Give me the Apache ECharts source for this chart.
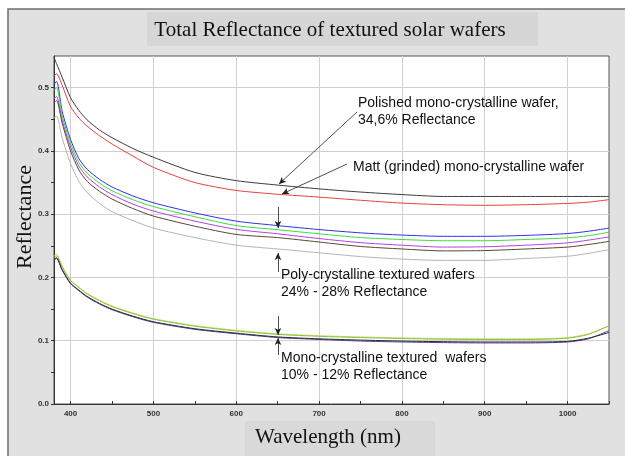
<!DOCTYPE html>
<html>
<head>
<meta charset="utf-8">
<title>Total Reflectance of textured solar wafers</title>
<script src="https://cdn.jsdelivr.net/npm/echarts@6/dist/echarts.min.js"></script>
<style>
  html, body { margin: 0; padding: 0; background: #fff; }
  #chart { width: 625px; height: 456px; }
</style>
</head>
<body>
<div id="chart"></div>
<script>
// wavelengths (nm) the curves are read at
var wavelength = [380, 383, 390, 400, 410, 420, 435, 450, 475, 500, 550, 600, 650, 700, 750, 800, 850, 900, 950, 1000, 1025, 1050];

// polished and matt mono wafers
var polished = [0.548, 0.538, 0.516, 0.484, 0.464, 0.449, 0.433, 0.421, 0.404, 0.390, 0.366, 0.353, 0.346, 0.340, 0.335, 0.331, 0.328, 0.328, 0.328, 0.328, 0.328, 0.328];
var matt = [0.518, 0.522, 0.503, 0.470, 0.452, 0.439, 0.424, 0.411, 0.392, 0.374, 0.350, 0.3375, 0.3315, 0.327, 0.322, 0.3175, 0.315, 0.314, 0.315, 0.317, 0.319, 0.323];

// poly-crystalline textured wafers
var polyBlue = [0.505, 0.510, 0.462, 0.418, 0.388, 0.371, 0.355, 0.343, 0.329, 0.318, 0.302, 0.289, 0.282, 0.2757, 0.2705, 0.267, 0.265, 0.265, 0.2665, 0.2694, 0.273, 0.278];
var polyGreen = [0.495, 0.500, 0.455, 0.412, 0.382, 0.365, 0.349, 0.337, 0.323, 0.312, 0.296, 0.282, 0.2755, 0.269, 0.263, 0.260, 0.258, 0.258, 0.260, 0.2626, 0.266, 0.2715];
var polyPurple = [0.482, 0.486, 0.448, 0.406, 0.376, 0.359, 0.343, 0.331, 0.316, 0.305, 0.289, 0.276, 0.269, 0.2615, 0.255, 0.251, 0.248, 0.2485, 0.251, 0.2547, 0.259, 0.264];
var polyBrown = [0.476, 0.480, 0.443, 0.400, 0.370, 0.352, 0.336, 0.324, 0.309, 0.297, 0.281, 0.268, 0.263, 0.256, 0.249, 0.245, 0.242, 0.2425, 0.245, 0.248, 0.252, 0.257];
var polyGray = [0.452, 0.455, 0.420, 0.380, 0.352, 0.334, 0.317, 0.304, 0.290, 0.278, 0.263, 0.251, 0.245, 0.239, 0.233, 0.229, 0.227, 0.227, 0.230, 0.2335, 0.238, 0.244];

// mono-crystalline textured wafers
var monoYellow = [0.233, 0.237, 0.218, 0.196, 0.185, 0.175, 0.164, 0.155, 0.144, 0.135, 0.124, 0.1165, 0.111, 0.108, 0.106, 0.1045, 0.1035, 0.103, 0.103, 0.105, 0.111, 0.123];
var monoGreen = [0.230, 0.234, 0.216, 0.195, 0.184, 0.174, 0.163, 0.154, 0.143, 0.134, 0.123, 0.1155, 0.110, 0.107, 0.105, 0.1035, 0.1025, 0.102, 0.102, 0.104, 0.110, 0.124];
var monoBlack = [0.228, 0.231, 0.212, 0.191, 0.180, 0.170, 0.159, 0.150, 0.139, 0.130, 0.119, 0.112, 0.106, 0.103, 0.101, 0.0995, 0.0985, 0.098, 0.098, 0.099, 0.104, 0.113];
var monoPurple = [0.227, 0.230, 0.211, 0.190, 0.179, 0.169, 0.158, 0.149, 0.138, 0.129, 0.118, 0.111, 0.105, 0.102, 0.0995, 0.098, 0.097, 0.0965, 0.0965, 0.098, 0.103, 0.116];

// tick labels
var xMajorTicks = [400, 500, 600, 700, 800, 900, 1000];
var xMinorTicks = [450, 550, 650, 750, 850, 950, 1050];
var yMajorTicks = [0, 0.1, 0.2, 0.3, 0.4, 0.5];
var yMinorTicks = [0.05, 0.15, 0.25, 0.35, 0.45];

var curves = [
  { name: 'Polished', values: polished, color: '#3c3c3c' },
  { name: 'Matt', values: matt, color: '#e8403c' },
  { name: 'Poly 1', values: polyBlue, color: '#2c32e6' },
  { name: 'Poly 2', values: polyGreen, color: '#3cdc3c' },
  { name: 'Poly 3', values: polyPurple, color: '#b440e6' },
  { name: 'Poly 4', values: polyBrown, color: '#5a4632' },
  { name: 'Poly 5', values: polyGray, color: '#b4b4b4' },
  { name: 'Mono 1', values: monoYellow, color: '#e6d26e' },
  { name: 'Mono 2', values: monoGreen, color: '#78c83c' },
  { name: 'Mono 3', values: monoPurple, color: '#5a3ca0' },
  { name: 'Mono 4', values: monoBlack, color: '#2a2a2a' }
];

var sans = 'Liberation Sans';
var serif = 'Liberation Serif';

var series = curves.map(function (c) {
  return {
    name: c.name,
    type: 'line',
    xAxisIndex: 0,
    yAxisIndex: 0,
    showSymbol: false,
    smooth: 0.25,
    lineStyle: { color: c.color, width: 1 },
    data: wavelength.map(function (w, i) { return [w, c.values[i]]; })
  };
});

// annotation arrows (pixel positions on the page)
series[0].markLine = {
  silent: true,
  symbol: ['none', 'arrow'],
  symbolSize: [5, 7],
  label: { show: false },
  lineStyle: { color: '#222', width: 0.8, type: 'solid' },
  data: [
    [{ x: 357, y: 112 }, { x: 279, y: 184 }],
    [{ x: 347, y: 164 }, { x: 282, y: 194 }],
    [{ x: 278, y: 207 }, { x: 278, y: 228 }],
    [{ x: 278, y: 272 }, { x: 278, y: 253 }],
    [{ x: 278, y: 316 }, { x: 278, y: 335 }],
    [{ x: 278, y: 355 }, { x: 278, y: 338 }]
  ]
};

function note(x, y, text) {
  return {
    type: 'text', x: x, y: y, z: 100,
    style: { text: text, font: '14px "' + sans + '"', fill: '#111', textVerticalAlign: 'middle' }
  };
}

var option = {
  backgroundColor: '#ffffff',
  animation: false,
  grid: {
    left: 54, right: 16, top: 56, bottom: 52,
    show: true, backgroundColor: '#ffffff', borderColor: '#555', borderWidth: 1
  },
  xAxis: [
    {
      type: 'value', min: 380, max: 1050, position: 'bottom',
      axisLine: { show: true, lineStyle: { color: '#333' } },
      axisTick: { show: true, inside: true, length: 3, customValues: xMajorTicks, lineStyle: { color: '#333' } },
      axisLabel: {
        customValues: xMajorTicks, color: '#333', fontSize: 8, fontWeight: 'bold', fontFamily: sans, margin: 6,
        formatter: function (v) { return String(v); }
      },
      splitLine: { show: true, lineStyle: { color: '#d0d0d0', width: 1 } }
    },
    {
      type: 'value', min: 380, max: 1050, position: 'bottom',
      axisLine: { show: false },
      axisTick: { show: true, inside: true, length: 3, customValues: xMinorTicks, lineStyle: { color: '#333' } },
      axisLabel: { show: false },
      splitLine: { show: false }
    }
  ],
  yAxis: [
    {
      type: 'value', min: 0, max: 0.55, position: 'left',
      axisLine: { show: true, lineStyle: { color: '#333' } },
      axisTick: { show: true, length: 3, customValues: yMajorTicks, lineStyle: { color: '#333' } },
      axisLabel: {
        customValues: yMajorTicks, color: '#333', fontSize: 8, fontWeight: 'bold', fontFamily: sans, margin: 5,
        formatter: function (v) { return v.toFixed(1); }
      },
      splitLine: { show: true, lineStyle: { color: '#d0d0d0', width: 1 } }
    },
    {
      type: 'value', min: 0, max: 0.55, position: 'left',
      axisLine: { show: false },
      axisTick: { show: true, length: 3, customValues: yMinorTicks, lineStyle: { color: '#333' } },
      axisLabel: { show: false },
      splitLine: { show: false }
    }
  ],
  graphic: [
    { type: 'rect', z: -10, shape: { x: 8, y: 9, width: 700, height: 500 },
      style: { fill: '#e1e1e1', stroke: '#6e6e6e', lineWidth: 1.5 } },
    { type: 'rect', z: -9, shape: { x: 147, y: 12, width: 391, height: 34 }, style: { fill: '#d6d6d6' } },
    { type: 'rect', z: -9, shape: { x: 245, y: 421, width: 190, height: 40 }, style: { fill: '#d9d9d9' } },
    { type: 'text', x: 330, y: 30, z: 100,
      style: { text: 'Total Reflectance of textured solar wafers', font: '21px "' + serif + '"', fill: '#111',
        textAlign: 'center', textVerticalAlign: 'middle' } },
    { type: 'text', x: 328, y: 437, z: 100,
      style: { text: 'Wavelength (nm)', font: '21px "' + serif + '"', fill: '#111',
        textAlign: 'center', textVerticalAlign: 'middle' } },
    { type: 'text', x: 25, y: 217, z: 100, rotation: Math.PI / 2,
      style: { text: 'Reflectance', font: '22px "' + serif + '"', fill: '#111',
        textAlign: 'center', textVerticalAlign: 'middle' } },
    note(358, 103, 'Polished mono-crystalline wafer,'),
    note(358, 120, '34,6% Reflectance'),
    note(353, 167, 'Matt (grinded) mono-crystalline wafer'),
    note(281, 275, 'Poly-crystalline textured wafers'),
    note(281, 292, '24% - 28% Reflectance'),
    note(281, 358, 'Mono-crystalline textured  wafers'),
    note(281, 375, '10% - 12% Reflectance')
  ],
  series: series
};

var chart = echarts.init(document.getElementById('chart'));
chart.setOption(option);
</script>
</body>
</html>
